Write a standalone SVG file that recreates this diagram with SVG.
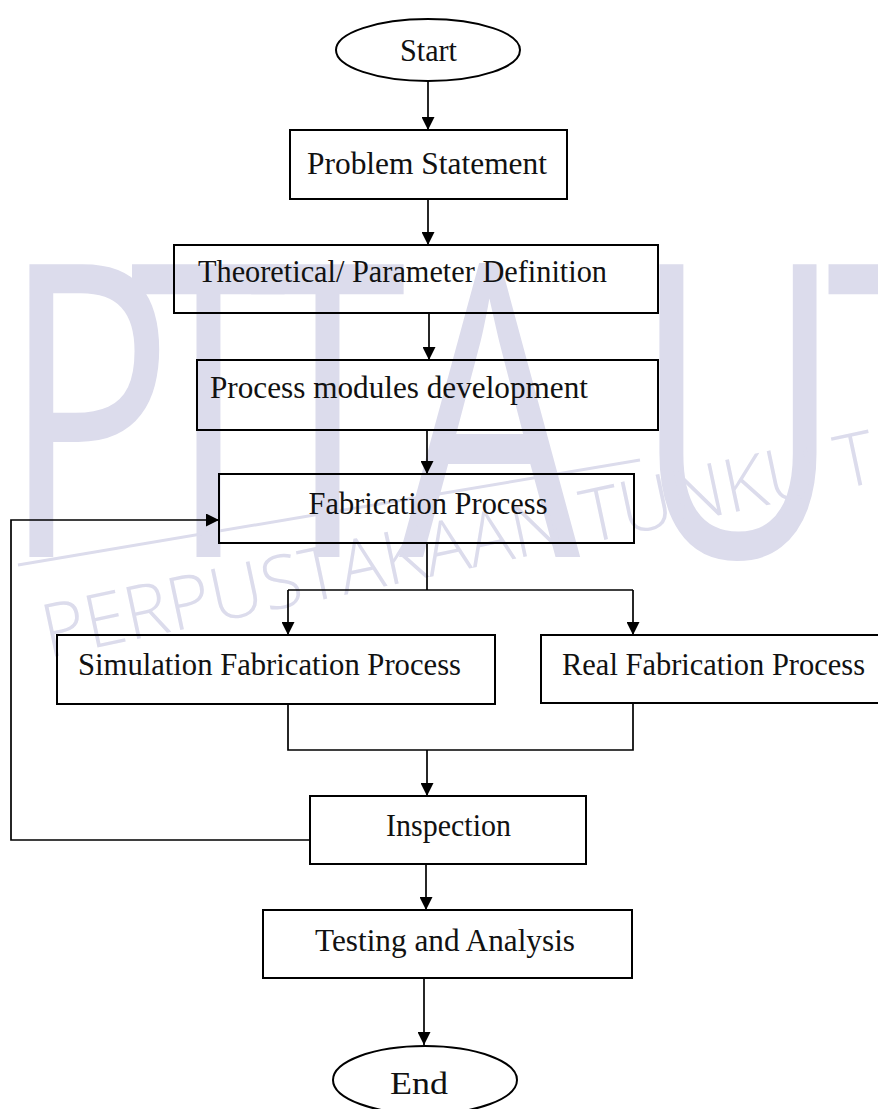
<svg xmlns="http://www.w3.org/2000/svg" width="878" height="1109" viewBox="0 0 878 1109">
<style>
.node{fill:none;stroke:#000;stroke-width:2}
.lbl{font-family:"Liberation Serif","Times New Roman",serif;font-size:30.5px;fill:#111;text-anchor:middle}
.edge{fill:none;stroke:#000;stroke-width:1.7}
.wm{fill:#dcdcec;font-family:"Open Sans","DejaVu Sans",sans-serif}
</style>
<defs>
<marker id="arr" markerUnits="userSpaceOnUse" markerWidth="14" markerHeight="13" refX="13" refY="6.5" orient="auto">
<path d="M0,0 L13,6.5 L0,13 Z" fill="#000"/>
</marker>
</defs>
<rect width="878" height="1109" fill="#fff"/>
<g id="watermark">
<text class="wm" font-size="410" font-weight="400" transform="translate(0,557) scale(0.7,1)" x="0" y="0"><tspan x="2">P</tspan><tspan x="185">T</tspan><tspan x="355">T</tspan><tspan x="570">A</tspan><tspan x="905">U</tspan><tspan x="1180">T</tspan></text>
<text class="wm" font-size="74" font-weight="300" transform="translate(48,658) rotate(-12)" textLength="850" lengthAdjust="spacingAndGlyphs">PERPUSTAKAAN TUNKU T</text>
<line x1="18" y1="565" x2="640" y2="460" stroke="#dcdcec" stroke-width="3"/>
</g>
<g id="connectors">
<line class="edge" x1="428" y1="81" x2="428" y2="130" marker-end="url(#arr)"/>
<line class="edge" x1="428" y1="199" x2="428" y2="245" marker-end="url(#arr)"/>
<line class="edge" x1="429" y1="313" x2="429" y2="360" marker-end="url(#arr)"/>
<line class="edge" x1="427" y1="430" x2="427" y2="474" marker-end="url(#arr)"/>
<polyline class="edge" points="427,543 427,590"/>
<polyline class="edge" points="288,590 633,590"/>
<line class="edge" x1="288" y1="590" x2="288" y2="635" marker-end="url(#arr)"/>
<line class="edge" x1="633" y1="590" x2="633" y2="635" marker-end="url(#arr)"/>
<polyline class="edge" points="288,704 288,750 633,750 633,703"/>
<line class="edge" x1="427" y1="750" x2="427" y2="796" marker-end="url(#arr)"/>
<polyline class="edge" points="310,840 11,840 11,520 219,520" marker-end="url(#arr)"/>
<line class="edge" x1="426" y1="864" x2="426" y2="910" marker-end="url(#arr)"/>
<line class="edge" x1="424" y1="978" x2="424" y2="1045" marker-end="url(#arr)"/>
</g>
<g id="start"><ellipse class="node" cx="428" cy="50" rx="92" ry="31"/><text class="lbl" x="428.5" y="61" textLength="57" lengthAdjust="spacingAndGlyphs">Start</text></g>
<g id="problem"><rect class="node" x="290" y="130" width="277" height="69"/><text class="lbl" x="427" y="174" textLength="240" lengthAdjust="spacingAndGlyphs">Problem Statement</text></g>
<g id="theoretical"><rect class="node" x="174" y="245" width="484" height="68"/><text class="lbl" x="402.5" y="282" textLength="409" lengthAdjust="spacingAndGlyphs">Theoretical/ Parameter Definition</text></g>
<g id="process"><rect class="node" x="197" y="360" width="461" height="70"/><text class="lbl" x="399" y="398" textLength="378" lengthAdjust="spacingAndGlyphs">Process modules development</text></g>
<g id="fabrication"><rect class="node" x="219" y="474" width="415" height="69"/><text class="lbl" x="428" y="514" textLength="239" lengthAdjust="spacingAndGlyphs">Fabrication Process</text></g>
<g id="simulation"><rect class="node" x="57" y="635" width="438" height="69"/><text class="lbl" x="269.5" y="675" textLength="383" lengthAdjust="spacingAndGlyphs">Simulation Fabrication Process</text></g>
<g id="real"><rect class="node" x="541" y="635" width="345" height="68"/><text class="lbl" x="713.5" y="675" textLength="303" lengthAdjust="spacingAndGlyphs">Real Fabrication Process</text></g>
<g id="inspection"><rect class="node" x="310" y="796" width="276" height="68"/><text class="lbl" x="448.5" y="836" textLength="125" lengthAdjust="spacingAndGlyphs">Inspection</text></g>
<g id="testing"><rect class="node" x="263" y="910" width="369" height="68"/><text class="lbl" x="445" y="951" textLength="260" lengthAdjust="spacingAndGlyphs">Testing and Analysis</text></g>
<g id="end"><ellipse class="node" cx="425" cy="1080" rx="92" ry="34"/><text class="lbl" x="419" y="1094" textLength="58" lengthAdjust="spacingAndGlyphs">End</text></g>
</svg>
